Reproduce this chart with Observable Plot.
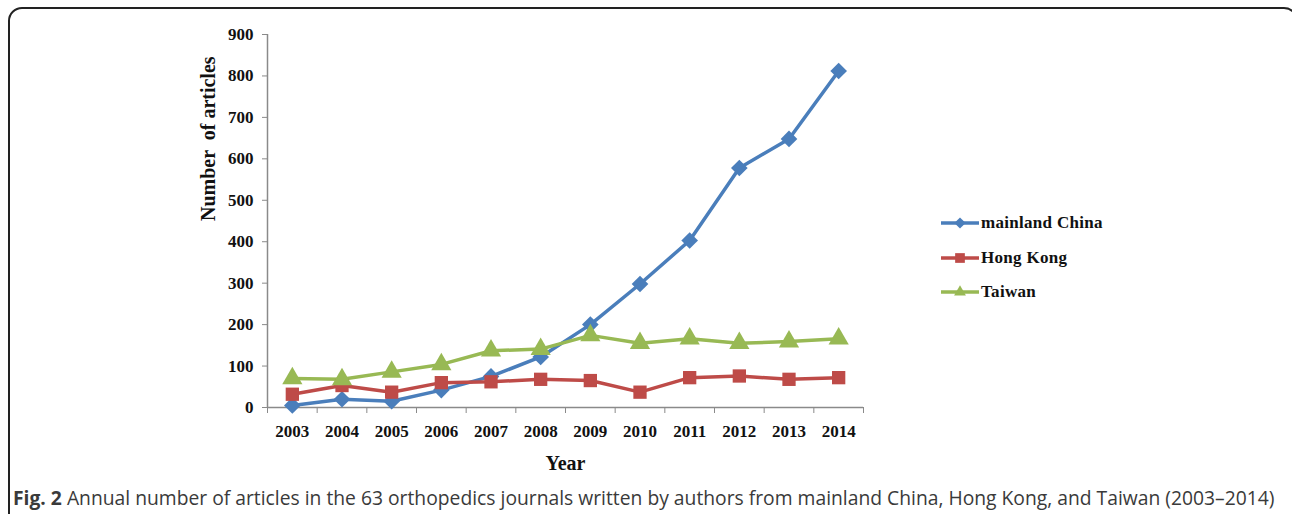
<!DOCTYPE html>
<html>
<head>
<meta charset="utf-8">
<script src="https://cdn.jsdelivr.net/npm/d3@7"></script>
<script src="https://cdn.jsdelivr.net/npm/@observablehq/plot@0.6"></script>
<style>
  html, body { margin: 0; padding: 0; background: #fff; }
  #wrap { position: relative; width: 1292px; height: 514px; overflow: hidden; }
  #box { position: absolute; left: 8px; top: 7px; width: 1290px; height: 540px;
         border: 2px solid #222; border-radius: 14px; box-sizing: border-box; }
  #chart { position: absolute; left: 0; top: 0; }
  #legend { position: absolute; left: 940px; top: 206px; font-family: "Liberation Serif", serif;
            font-weight: bold; font-size: 17px; color: #111; letter-spacing: 0.3px; }
  .row { display: flex; align-items: center; height: 34.5px; }
  .row svg { margin-right: 1px; }
  #caption { position: absolute; left: 13px; top: 484px; font-family: "Open Sans", sans-serif;
             font-size: 19.3px; color: #3a3a3a; white-space: nowrap; }
</style>
</head>
<body>
<div id="wrap">
  <div id="box"></div>
  <div id="chart"></div>
  <div id="legend"></div>
  <div id="caption"><b>Fig. 2</b> Annual number of articles in the 63 orthopedics journals written by authors from mainland China, Hong Kong, and Taiwan (2003–2014)</div>
</div>
<script>
const years = [2003, 2004, 2005, 2006, 2007, 2008, 2009, 2010, 2011, 2012, 2013, 2014];
const mainlandChina = [5, 20, 15, 42, 75, 122, 200, 298, 403, 578, 648, 812];
const hongKong = [32, 53, 37, 60, 62, 68, 65, 37, 72, 76, 68, 72];
const taiwan = [70, 68, 86, 104, 137, 141, 174, 155, 166, 155, 159, 166];
const seriesNames = ["mainland China", "Hong Kong", "Taiwan"];
const seriesColors = ["#4a7ebb", "#be4b48", "#98b954"];
const seriesSymbols = ["diamond2", "square", "triangle"];
const yTicks = [0, 100, 200, 300, 400, 500, 600, 700, 800, 900];

const seriesValues = [mainlandChina, hongKong, taiwan];
const data = [];
seriesNames.forEach((name, i) => years.forEach((yr, j) => data.push({series: name, year: yr, value: seriesValues[i][j]})));
const boundaries = [years[0] - 0.5, ...years.map(y => y + 0.5)];

const serif = "Liberation Serif, Times New Roman, serif";
const axisGray = "#8a8a8a";

const chart = Plot.plot({
  width: 1292,
  height: 476,
  marginLeft: 267,
  marginRight: 429,
  marginTop: 34,
  marginBottom: 69,
  style: {fontFamily: serif, fontSize: "17px", fontWeight: "bold", background: "transparent", color: "#111"},
  x: {type: "linear", domain: [years[0] - 0.5, years[years.length - 1] + 0.5]},
  y: {domain: [0, 900]},
  color: {domain: seriesNames, range: seriesColors},
  symbol: {domain: seriesNames, range: seriesSymbols},
  marks: [
    Plot.ruleY([0], {stroke: axisGray, strokeWidth: 1.5}),
    Plot.ruleX([years[0] - 0.5], {stroke: axisGray, strokeWidth: 1.5}),
    Plot.axisY({ticks: yTicks, tickSize: 5, tickPadding: 9, stroke: axisGray, label: null, fontSize: 17, tickFormat: d => d}),
    Plot.axisX({ticks: boundaries, tickSize: 6, tickFormat: () => "", stroke: axisGray, label: null}),
    Plot.axisX({ticks: years, tickSize: 0, tickPadding: 17, tickFormat: d => String(d), label: null, fontSize: 17}),
    Plot.text(["Number  of articles"], {frameAnchor: "left", dx: -59, rotate: -90, fontSize: 20, fontWeight: "bold", fill: "#111"}),
    Plot.text(["Year"], {frameAnchor: "bottom", dy: 62, fontSize: 20, fontWeight: "bold", fill: "#111"}),
    Plot.line(data, {x: "year", y: "value", stroke: "series", strokeWidth: 3.5, curve: "linear"}),
    Plot.dot(data, {x: "year", y: "value", fill: "series", symbol: "series", r: 7.5, stroke: "none"})
  ]
});
document.getElementById("chart").appendChild(chart);

// legend
const legend = d3.select("#legend");
seriesNames.forEach((name, i) => {
  const row = legend.append("div").attr("class", "row");
  const svg = row.append("svg").attr("width", 40).attr("height", 20);
  svg.append("line").attr("x1", 1).attr("x2", 39).attr("y1", 10).attr("y2", 10)
     .attr("stroke", seriesColors[i]).attr("stroke-width", 3.5);
  const sym = {diamond2: d3.symbolDiamond2, square: d3.symbolSquare2, triangle: d3.symbolTriangle2}[seriesSymbols[i]];
  const size = [80, 120, 100][i];
  svg.append("path").attr("d", d3.symbol(sym, size)()).attr("transform", "translate(20,10)")
     .attr("fill", seriesColors[i]);
  row.append("span").text(name);
});
</script>
</body>
</html>
